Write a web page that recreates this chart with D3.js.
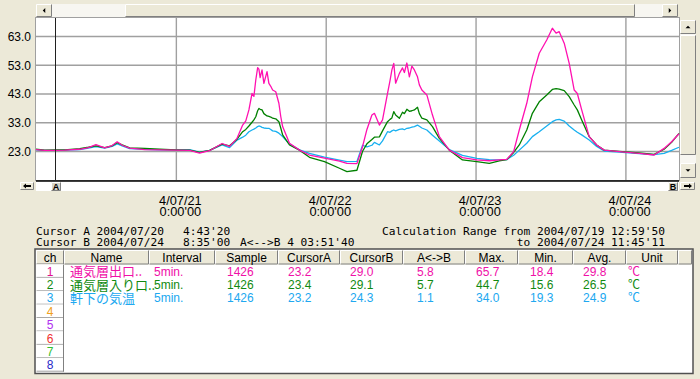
<!DOCTYPE html>
<html><head><meta charset="utf-8">
<script src="https://cdn.jsdelivr.net/npm/d3@7/dist/d3.min.js"></script>
<style>body{margin:0;background:#ece9d8;overflow:hidden}svg{display:block}</style>
</head><body><svg id="c" width="700" height="379"></svg>
<script>
// ---------- data ----------
// hours since 2004/07/20 00:00
const hours = [1.6,3.0,4.7,6.2,8.6,10.0,11.2,12.6,13.8,14.6,15.4,16.6,19.0,21.4,24.0,26.2,27.8,29.4,31.4,32.6,33.8,34.7,35.2,35.7,36.2,36.5,36.8,37.1,37.3,37.5,37.8,38.1,38.6,38.9,39.2,39.5,40.0,40.5,40.8,41.1,42.2,43.8,45.4,47.8,50.2,51.4,53.0,53.9,54.6,55.4,55.8,56.6,57.1,57.9,58.3,58.6,58.9,59.2,59.8,60.3,60.6,61.0,61.4,61.8,62.2,62.7,63.0,63.4,64.2,65.1,66.2,67.8,69.9,72.2,74.2,75.8,77.0,78.1,79.0,80.2,81.1,82.2,83.4,84.3,84.9,85.4,86.2,87.0,87.8,88.3,89.0,90.2,91.4,92.6,95.0,98.2,100.6,102.2,103.4,104.58];
const ch1Values = [23.5,23.2,23.2,23.3,23.6,24.2,25.2,24.1,24.9,26.2,25.0,24.0,23.5,23.4,23.3,23.2,22.3,23.1,25.6,24.6,27.4,32.0,33.5,37.3,43.0,42.0,47.7,52.0,51.5,48.5,51.2,46.5,50.6,46.5,45.5,44.2,43.6,39.6,35.0,31.5,25.7,23.3,21.6,20.5,19.5,18.7,18.6,24.5,30.5,35.5,36.1,32.0,33.8,43.0,47.5,51.2,53.5,46.6,50.0,51.9,50.3,53.6,48.8,52.5,51.2,48.8,46.0,44.2,42.5,35.5,28.0,23.3,20.7,19.9,19.6,19.9,20.1,22.8,30.3,39.6,48.8,57.0,61.6,65.7,64.0,64.5,60.5,53.5,44.2,43.0,37.3,28.0,25.1,23.3,22.8,22.2,21.6,23.9,26.2,29.0];
const ch2Values = [23.6,23.3,23.4,23.4,23.8,24.3,24.8,24.2,24.8,25.9,25.1,24.1,23.9,23.6,23.4,23.3,22.5,23.2,25.4,24.8,27.1,29.7,30.5,31.7,33.0,33.8,34.9,37.0,37.8,37.5,37.3,36.0,35.2,35.0,34.8,34.4,34.2,33.2,31.0,28.6,25.1,23.3,20.8,19.3,17.0,15.8,16.3,22.9,25.5,27.0,27.8,27.9,30.0,33.2,34.0,34.5,36.7,35.5,34.4,36.5,36.0,37.5,36.8,37.0,37.3,38.2,36.0,34.4,33.8,31.5,27.4,23.3,19.9,19.3,18.7,19.6,20.0,22.5,25.1,30.3,36.1,40.1,42.5,44.4,44.7,44.5,44.0,41.9,39.0,37.3,33.8,28.0,25.1,23.3,22.9,22.3,21.8,23.6,26.0,29.1];
const ch3Values = [23.4,23.2,23.2,23.3,23.5,24.0,24.5,24.0,24.6,25.5,24.8,23.8,23.6,23.4,23.4,23.5,22.6,23.2,25.1,24.2,26.8,27.8,28.5,29.7,30.3,30.6,31.0,31.5,31.7,31.6,31.2,31.0,30.9,30.9,30.5,30.0,29.8,29.2,28.6,28.0,25.4,23.4,22.2,20.9,19.8,19.3,19.4,25.0,24.4,25.0,26.0,25.1,26.5,29.7,29.5,30.0,30.3,30.0,30.5,30.7,30.4,30.9,31.0,31.3,31.5,32.0,31.6,31.0,30.3,28.5,26.5,23.5,21.5,20.4,20.0,19.9,20.0,21.5,23.3,25.7,28.0,29.7,31.7,33.2,33.8,34.0,33.4,31.7,30.3,29.5,28.6,26.8,24.6,23.0,22.6,22.1,21.7,22.2,23.2,24.3];

const yTicks = [23, 33, 43, 53, 63];
const dayTicks = ["2004-07-21T00:00:00","2004-07-22T00:00:00","2004-07-23T00:00:00","2004-07-24T00:00:00"];
const dayLabels = ["4/07/21","4/07/22","4/07/23","4/07/24"];
const timeLabels = ["0:00'00","0:00'00","0:00'00","0:00'00"];
const viewStart = "2004-07-20T01:36:00";
const viewEnd = "2004-07-24T08:35:00";
const cursorATime = "2004-07-20T04:43:20";
const cursorInfo = [["Cursor A 2004/07/20","4:43'20",""],["Cursor B 2004/07/24","8:35'00","A<-->B 4 03:51'40"]];
const calcInfo = ["Calculation Range from 2004/07/19 12:59'50","to 2004/07/24 11:45'11"];

const headers = ["ch","Name","Interval","Sample","CursorA","CursorB","A<->B","Max.","Min.","Avg.","Unit",""];
const channels = ["1","2","3","4","5","6","7","8"];
const names = ["通気層出口..","通気層入り口..","軒下の気温"];
const intervals = ["5min.","5min.","5min."];
const samples = ["1426","1426","1426"];
const cursorAVals = ["23.2","23.4","23.2"];
const cursorBVals = ["29.0","29.1","24.3"];
const diffVals = ["5.8","5.7","1.1"];
const maxVals = ["65.7","44.7","34.0"];
const minVals = ["18.4","15.6","19.3"];
const avgVals = ["29.8","26.5","24.9"];
const units = ["℃","℃","℃"];

// ---------- styles ----------
const BG = "#ece9d8", DITHER = "#f7f6f1";
const lineColors = ["#ff10b0","#008000","#18b0f0"];
const textColors = ["#f010a8","#108a10","#20a8f0"];
const chColors = ["#e0108f","#108a10","#20a8f0","#f0a020","#b030f0","#f03030","#30c030","#2828c8"];
const SANS = "'Liberation Sans', Arial, sans-serif";
const MONO = "'DejaVu Sans Mono', monospace";
const CJK = "'Noto Sans CJK JP', sans-serif";

const svg = d3.select("#c");
svg.append("rect").attr("width",700).attr("height",379).attr("fill",BG);

function bevel(x,y,w,h,fill,hi,lo){
  const g = svg.append("g");
  g.append("rect").attr("x",x).attr("y",y).attr("width",w).attr("height",h).attr("fill",fill||BG);
  g.append("path").attr("d",`M${x+0.5},${y+h-0.5}V${y+0.5}H${x+w-0.5}`).attr("stroke",hi||"#fff").attr("fill","none");
  g.append("path").attr("d",`M${x+0.5},${y+h-0.5}H${x+w-0.5}V${y+0.5}`).attr("stroke",lo||"#808080").attr("fill","none");
  return g;
}
function tri(cx,cy,dir){
  const s=2.5; let d;
  if(dir==="l") d=`M${cx-s/2},${cy}L${cx+s/2},${cy-s}L${cx+s/2},${cy+s}Z`;
  if(dir==="r") d=`M${cx+s/2},${cy}L${cx-s/2},${cy-s}L${cx-s/2},${cy+s}Z`;
  if(dir==="u") d=`M${cx},${cy-s/2}L${cx-s},${cy+s/2}L${cx+s},${cy+s/2}Z`;
  if(dir==="d") d=`M${cx},${cy+s/2}L${cx-s},${cy-s/2}L${cx+s},${cy-s/2}Z`;
  svg.append("path").attr("d",d).attr("fill","#000");
}

// ---------- plot frame ----------
const L=36, R=679, T=18, B=180;
const parse = s => new Date(s);
const base = new Date("2004-07-20T00:00:00");
const toDate = h => new Date(base.getTime() + h*3600e3);
const x = d3.scaleTime().domain([parse(viewStart), parse(viewEnd)]).range([L,R]);
const y = d3.scaleLinear().domain([12.91, 69.26]).range([B,T]);

// top scrollbar
svg.append("rect").attr("x",L).attr("y",4).attr("width",642).attr("height",13).attr("fill",DITHER);
bevel(L,4,16,13); tri(L+8,10.5,"l");
bevel(125,4,510,13);
bevel(662,4,16,13); tri(670,10.5,"r");

// vertical scrollbar
svg.append("rect").attr("x",680).attr("y",20).attr("width",16).attr("height",158).attr("fill",DITHER);
bevel(680,20,16,14); tri(688,27,"u");
bevel(680,35,16,120);
bevel(680,163,16,15); tri(688,170.5,"d");

// plot area
svg.append("rect").attr("x",L).attr("y",T).attr("width",R-L).attr("height",B-T).attr("fill","#fff");

const gy = svg.append("g").attr("transform",`translate(${L},0)`)
  .call(d3.axisLeft(y).tickValues(yTicks).tickFormat(d3.format(".1f")).tickSize(-(R-L)).tickPadding(5));
gy.select(".domain").remove();
gy.selectAll("line").attr("stroke","#a0a0a0").attr("stroke-width",1.4);
gy.selectAll("text").attr("font-family",SANS).attr("font-size",12).attr("fill","#000").attr("dy","0.36em");

const gx = svg.append("g").attr("transform",`translate(0,${B})`)
  .call(d3.axisBottom(x).tickValues(dayTicks.map(parse)).tickSize(-(B-T)).tickFormat((d,i)=>dayLabels[i]));
gx.select(".domain").remove();
gx.selectAll("line").attr("stroke","#a0a0a0").attr("stroke-width",1.4);
gx.selectAll("text").each(function(d,i){
  const t = d3.select(this);
  t.text(null).attr("y",25).attr("dy",0).attr("x",4).attr("font-family",SANS).attr("font-size",12.8).attr("fill","#000");
  t.append("tspan").attr("x",4).text(dayLabels[i]);
  t.append("tspan").attr("x",4).attr("dy",10.6).text(timeLabels[i]);
});

// plot border
svg.append("rect").attr("x",L-0.5).attr("y",T-0.5).attr("width",R-L+1).attr("height",B-T+1).attr("fill","none").attr("stroke","#a0a0a0");

// series
const series = [ch3Values, ch2Values, ch1Values];
const seriesColors = [lineColors[2], lineColors[1], lineColors[0]];
const line = d3.line().x((d,i)=>x(toDate(hours[i]))).y(d=>y(d));
series.forEach((vals,k)=>{
  svg.append("path").datum(vals).attr("d",line).attr("fill","none")
    .attr("stroke",seriesColors[k]).attr("stroke-width",1.3).attr("stroke-linejoin","round");
});

// cursor A line
const xa = Math.round(x(parse(cursorATime)))+0.5;
svg.append("line").attr("x1",xa).attr("x2",xa).attr("y1",T).attr("y2",B).attr("stroke","#202020").attr("stroke-width",1);

// cursor strip
svg.append("rect").attr("x",L).attr("y",181).attr("width",R-L).attr("height",10).attr("fill","#fff");
svg.append("line").attr("x1",L).attr("x2",R).attr("y1",181).attr("y2",181).attr("stroke","#000").attr("stroke-width",1.5);
bevel(20,182,14,8);
svg.append("path").attr("d","M23,186L26,183.5V185H31V187H26V188.5Z").attr("fill","#000");
bevel(680,182,15,8);
svg.append("path").attr("d","M692,186L689,183.5V185H684V187H689V188.5Z").attr("fill","#000");
bevel(xa-4.5,182,10,9,"#d8d5c8");
svg.append("text").attr("x",xa+0.5).attr("y",190).attr("text-anchor","middle").attr("font-family",SANS).attr("font-size",9).attr("font-weight","bold").text("A");
bevel(668,182,10,9,"#d8d5c8");
svg.append("text").attr("x",673).attr("y",190).attr("text-anchor","middle").attr("font-family",SANS).attr("font-size",9).attr("font-weight","bold").text("B");

// cursor info text
const infoBase = [235, 246];
cursorInfo.forEach((parts,i)=>{
  const xs=[36,183,240];
  parts.forEach((p,j)=>{ if(p) svg.append("text").attr("x",xs[j]).attr("y",infoBase[i]).attr("font-family",MONO).attr("font-size",11.2).attr("fill","#000").text(p); });
});
calcInfo.forEach((p,i)=>{
  svg.append("text").attr("x",665).attr("y",infoBase[i]).attr("text-anchor","end").attr("font-family",MONO).attr("font-size",11.2).attr("fill","#000").text(p);
});

// ---------- table ----------
const colEdges = [36,64,149,215,278,340,403,465,518,573,626,678,692];
const textX = [null,70,154,227,288,350,417,476,530,583,628];
const TT=249.5, HB=264.5, RH=13.4;
svg.append("rect").attr("x",35).attr("y",TT-0.5).attr("width",658).attr("height",124.5).attr("fill","#fff").attr("stroke","#505050").attr("stroke-width",1.5);
headers.forEach((h,i)=>{
  const x0=colEdges[i], w=colEdges[i+1]-colEdges[i];
  bevel(x0,TT+0.5,w,HB-TT-0.5);
  if(h) svg.append("text").attr("x",x0+w/2).attr("y",262).attr("text-anchor","middle").attr("font-family",SANS).attr("font-size",12).attr("fill","#000").text(h);
});
channels.forEach((c,i)=>{
  const y0 = HB + i*RH;
  bevel(36,y0,28,RH,"#fff","#fff","#a0a0a0");
  svg.append("text").attr("x",50).attr("y",y0+RH/2+4.4).attr("text-anchor","middle").attr("font-family",SANS).attr("font-size",12).attr("fill",chColors[i]).text(c);
});
svg.append("line").attr("x1",63.5).attr("x2",63.5).attr("y1",HB).attr("y2",HB+8*RH).attr("stroke","#808080");

const cols = [names, intervals, samples, cursorAVals, cursorBVals, diffVals, maxVals, minVals, avgVals, units];
names.forEach((n,r)=>{
  const by = HB + r*RH + RH/2 + 4.4;
  cols.forEach((col,j)=>{
    const isCJK = j===0 || j===9;
    svg.append("text").attr("x",textX[j+1]).attr("y", j===0 ? by+0.6 : by)
      .attr("font-family", isCJK ? CJK : SANS).attr("font-size", j===0 ? 13 : 12)
      .attr("fill",textColors[r]).text(col[r]);
  });
});
</script></body></html>
